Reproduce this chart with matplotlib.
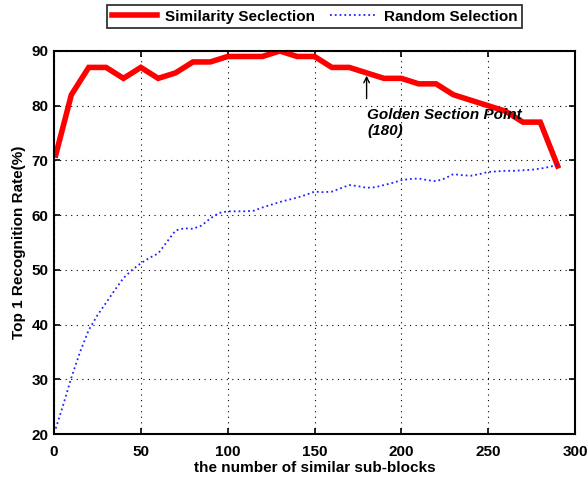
import matplotlib
matplotlib.use('Agg')
from matplotlib import pyplot as plt

plt.rcParams['font.family'] = ['Liberation Sans', 'DejaVu Sans']
plt.rcParams['font.weight'] = 'bold'

# similarity selection (every 10 sub-blocks)
sim_x = [1] + list(range(10, 300, 10))
sim_y = [71, 82, 87, 87, 85, 87, 85, 86, 88, 88,
         89, 89, 89, 90, 89, 89, 87, 87, 86, 85,
         85, 84, 84, 82, 81, 80, 79, 77, 77, 69]

# random selection (every 5 sub-blocks)
rnd_x = [1] + list(range(5, 295, 5))
rnd_y = [21, 25, 30.3, 35, 39, 41.7, 44, 46.3, 48.5, 50,
         51.2, 52.2, 53, 55.1, 57.2, 57.6, 57.5, 58.1, 59.4, 60.4,
         60.7, 60.7, 60.7, 60.8, 61.4, 61.9, 62.4, 62.8, 63.2, 63.7,
         64.3, 64.2, 64.3, 64.9, 65.5, 65.3, 65.0, 65.1, 65.5, 65.9,
         66.4, 66.6, 66.7, 66.4, 66.2, 66.7, 67.5, 67.3, 67.2, 67.5,
         67.9, 68.0, 68.1, 68.1, 68.2, 68.3, 68.5, 68.8, 69.2]

xticks = [0, 50, 100, 150, 200, 250, 300]
yticks = [20, 30, 40, 50, 60, 70, 80, 90]

fig = plt.figure(figsize=(5.88, 4.8), dpi=100)
ax = fig.add_axes([54/588, 1-434/480, 521/588, 383/480])

l1, = ax.plot(sim_x, sim_y, color='red', lw=4.0, solid_joinstyle='miter')
l2, = ax.plot(rnd_x, rnd_y, color='#2222ff', lw=1.3, ls=':')

ax.set_xlim(0, 300)
ax.set_ylim(20, 90)
ax.set_xticks(xticks)
ax.set_yticks(yticks)
ax.grid(True, color='black', ls=(0, (1, 4)), lw=0.8)
ax.tick_params(direction='in', top=True, right=True, labelsize=11, width=1.2, length=4)
ax.tick_params(axis='x', pad=8)
ax.tick_params(axis='y', pad=4)
for s in ax.spines.values():
    s.set_linewidth(1.5)

ax.set_xlabel('the number of similar sub-blocks', fontsize=11, fontweight='bold', labelpad=1)
ax.set_ylabel('Top 1 Recognition Rate(%)', fontsize=11, fontweight='bold', labelpad=4)

ax.annotate('', xy=(180, 86), xytext=(180, 80.8),
            arrowprops=dict(arrowstyle='->', color='black', lw=1.0))
ax.text(180.5, 79.5, 'Golden Section Point\n(180)', fontsize=11, fontweight='bold',
        fontstyle='italic', va='top', ha='left', linespacing=1.1)

leg = fig.legend([l1, l2], ['Similarity Seclection', 'Random Selection'], ncol=2,
                 loc='upper center', bbox_to_anchor=(314.5/588, 1-5/480), fontsize=11,
                 frameon=True, fancybox=False, edgecolor='black', borderpad=0.3,
                 borderaxespad=0, handlelength=3.0, columnspacing=1.0, handletextpad=0.5)
leg.get_frame().set_linewidth(1.3)

fig.savefig('out.png', dpi=100)
